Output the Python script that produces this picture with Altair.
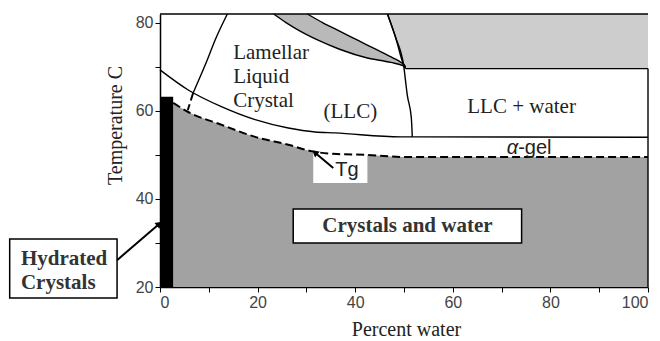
import altair as alt
import pandas as pd

# ---------------- data ----------------
# dashed Tg curve (top of "crystals and water" region)
tg_x = [2.7, 5.7, 12.7, 19.5, 26.3, 31.2, 36.3, 42.5, 50.7, 100]
tg_t = [61.8, 59.8, 56.8, 54.1, 52.3, 50.8, 50.2, 50.0, 49.5, 49.5]

# solid curve (bottom of LLC / top of alpha-gel)
llc_x = [0, 5.7, 12.7, 19.5, 26.3, 31.8, 35.9, 49.3, 51.7, 100]
llc_t = [69.3, 64.8, 60.9, 58.0, 56.1, 55.2, 55.0, 54.1, 54.1, 54.0]

# near-vertical left boundary (solid part, dashed part)
lv_x = [13.8, 11.3, 9.7, 6.8]
lv_t = [82.0, 76.1, 71.6, 64.1]
lvd_x = [6.8, 5.7]
lvd_t = [64.1, 60.2]

# right boundary of LLC
rb_x = [46.6, 48.3, 49.9, 50.7, 51.5, 51.7]
rb_t = [82.0, 76.6, 70.5, 63.4, 58.4, 54.1]

# crescent band (for each temperature: left and right edge)
cr_t = [82, 80, 78, 76, 74, 72, 71, 70.2, 69.8]
cr_left = [23.3, 25.9, 28.9, 32.5, 36.8, 42.5, 47.3, 49.9, 50.3]
cr_right = [30.2, 33.4, 37.0, 40.6, 44.2, 47.8, 49.4, 50.2, 50.3]

# upper-right shaded region (left edge), lower edge temperature
ur_t = [82.0, 76.6, 70.5, 69.6]
ur_x = [46.6, 48.3, 49.9, 50.3]
ur_bottom = 69.6

# hydrated crystals bar
bar_x = [0, 2.7]
bar_t = [20, 63.2]

# Tg label white patch
tgbox_x = [31.4, 42.5]
tgbox_t = [43.6, 50.6]

# annotation boxes [x1, x2, t1, t2]
box_cw = [27.3, 74.1, 30.0, 37.7]
box_hc = [-30.8, -8.8, 17.5, 30.9]

# arrows [x_from, t_from, x_to, t_to]
arrow_hc = [-8.8, 26.1, -0.3, 34.2]
arrow_tg = [35.5, 47.0, 31.9, 50.4]

# texts
serif_labels = ["Lamellar", "Liquid", "Crystal"]
serif_x = [15.0, 15.0, 15.0]
serif_t = [71.8, 66.4, 60.9]

x_ticks = list(range(0, 101, 10))
t_ticks = list(range(20, 81, 10))

XDOM = [0, 100]
TDOM = [20, 82]
SERIF = "Liberation Serif"
SANS = "Liberation Sans"
TXT = "#222222"

X_AXIS = alt.Axis(values=x_ticks,
                  labelExpr="datum.value % 20 == 0 ? datum.label : ''",
                  tickSize=5, tickColor="black", domainColor="black", domainWidth=1.5,
                  labelFont=SANS, labelFontSize=16, labelColor="#444444", labelPadding=2,
                  grid=False, title="Percent water", titleFont=SERIF, titleFontSize=20,
                  titleFontWeight="normal", titleColor=TXT, titleX=246, titleY=48,
                  titleBaseline="alphabetic", titleAlign="center")
Y_AXIS = alt.Axis(values=t_ticks,
                  labelExpr="datum.value % 20 == 0 ? datum.label : ''",
                  tickSize=5, tickColor="black", domainColor="black", domainWidth=1.5,
                  labelFont=SANS, labelFontSize=16, labelColor="#444444", labelPadding=2,
                  grid=False, title="Temperature C", titleFont=SERIF, titleFontSize=20,
                  titleFontWeight="normal", titleColor=TXT, titleX=-39, titleY=111,
                  titleAngle=270, titleBaseline="alphabetic", titleAlign="center")


def X(field="x"):
    return alt.X(f"{field}:Q", scale=alt.Scale(domain=XDOM, nice=False, zero=False), axis=X_AXIS)


def Y(field="t"):
    return alt.Y(f"{field}:Q", scale=alt.Scale(domain=TDOM, nice=False, zero=False), axis=Y_AXIS)


# ---------------- layers ----------------
df_tg = pd.DataFrame({"x": tg_x, "t": tg_t})
stipple = alt.Chart(df_tg).mark_area(color="#a2a2a2", interpolate="monotone").encode(
    x=X(), y=Y(), y2=alt.datum(TDOM[0]))

df_ur = pd.DataFrame({"t": ur_t, "x": ur_x, "x2": [100] * len(ur_t)})
upper_right = alt.Chart(df_ur).mark_area(color="#cdcdcd", orient="horizontal", interpolate="monotone").encode(
    y=Y(), x=X(), x2="x2:Q")

df_cr = pd.DataFrame({"t": cr_t, "x": cr_left, "x2": cr_right})
crescent = alt.Chart(df_cr).mark_area(color="#b9b9b9", orient="horizontal", interpolate="monotone").encode(
    y=Y(), x=X(), x2="x2:Q")

df_bar = pd.DataFrame({"x": [bar_x[0]], "x2": [bar_x[1]], "t": [bar_t[0]], "t2": [bar_t[1]]})
bar = alt.Chart(df_bar).mark_rect(color="black").encode(x=X(), x2="x2:Q", y=Y(), y2="t2:Q")

df_tgbox = pd.DataFrame({"x": [tgbox_x[0]], "x2": [tgbox_x[1]], "t": [tgbox_t[0]], "t2": [tgbox_t[1]]})
tgbox = alt.Chart(df_tgbox).mark_rect(color="white").encode(x=X(), x2="x2:Q", y=Y(), y2="t2:Q")

df_boxes = pd.DataFrame({"x": [box_cw[0], box_hc[0]], "x2": [box_cw[1], box_hc[1]],
                         "t": [box_cw[2], box_hc[2]], "t2": [box_cw[3], box_hc[3]]})
boxes = alt.Chart(df_boxes).mark_rect(fill="white", stroke="black", strokeWidth=1.5).encode(
    x=X(), x2="x2:Q", y=Y(), y2="t2:Q")


def line_df(name, xs, ts):
    return pd.DataFrame({"id": name, "i": range(len(xs)), "x": xs, "t": ts})


solid_df = pd.concat([
    line_df("llc", llc_x, llc_t),
    line_df("lv", lv_x, lv_t),
    line_df("rb", rb_x, rb_t),
    line_df("crl", cr_left, cr_t),
    line_df("crr", cr_right, cr_t),
    line_df("ur_edge", ur_x, ur_t),
    line_df("ur_bottom", [50.3, 100], [ur_bottom, ur_bottom]),
    line_df("right", [100, 100], [20, ur_bottom]),
    line_df("top", [0, 100], [82, 82]),
])
solid_lines = alt.Chart(solid_df).mark_line(color="black", strokeWidth=1.4, interpolate="monotone").encode(
    x=X(), y=Y(), detail="id:N", order="i:Q")

dash_df = pd.concat([line_df("tg", tg_x, tg_t), line_df("lvd", lvd_x, lvd_t)])
dash_lines = alt.Chart(dash_df).mark_line(color="black", strokeWidth=2, strokeDash=[8, 4],
                                          interpolate="monotone").encode(
    x=X(), y=Y(), detail="id:N", order="i:Q")

arrow_df = pd.concat([
    line_df("a1", [arrow_hc[0], arrow_hc[2]], [arrow_hc[1], arrow_hc[3]]),
    line_df("a2", [arrow_tg[0], arrow_tg[2]], [arrow_tg[1], arrow_tg[3]]),
])
arrow_lines = alt.Chart(arrow_df).mark_line(color="black", strokeWidth=2).encode(
    x=X(), y=Y(), detail="id:N", order="i:Q")
head_df = pd.DataFrame({"x": [arrow_hc[2], arrow_tg[2]], "t": [arrow_hc[3], arrow_tg[3]], "ang": [49, 308]})
heads = alt.Chart(head_df).mark_point(shape="triangle", filled=True, color="black", size=55, opacity=1).encode(
    x=X(), y=Y(), angle=alt.Angle("ang:Q", scale=None))

serif_df = pd.DataFrame({"x": serif_x, "t": serif_t, "label": serif_labels})
serif_txt = alt.Chart(serif_df).mark_text(font=SERIF, fontSize=21, color=TXT, align="left",
                                          baseline="alphabetic").encode(x=X(), y=Y(), text="label:N")

center_df = pd.DataFrame({"x": [39.0, 74.1], "t": [58.4, 59.5], "label": ["(LLC)", "LLC + water"]})
center_txt = alt.Chart(center_df).mark_text(font=SERIF, fontSize=21, color=TXT, align="center",
                                            baseline="alphabetic").encode(x=X(), y=Y(), text="label:N")

cw_df = pd.DataFrame({"x": [50.7], "t": [33.9], "label": ["Crystals and water"]})
cw_txt = alt.Chart(cw_df).mark_text(font=SERIF, fontSize=21, fontWeight="bold", color="#333333",
                                    align="center", baseline="middle").encode(x=X(), y=Y(), text="label:N")

hc_df = pd.DataFrame({"x": [-28.5, -28.5], "t": [25.0, 19.6], "label": ["Hydrated", "Crystals"]})
hc_txt = alt.Chart(hc_df).mark_text(font=SERIF, fontSize=21, fontWeight="bold", color="#333333",
                                    align="left", baseline="alphabetic").encode(x=X(), y=Y(), text="label:N")

alpha_df = pd.DataFrame({"x": [73.4], "t": [50.3], "label": ["α"]})
alpha_txt = alt.Chart(alpha_df).mark_text(font=SANS, fontSize=20, fontStyle="italic", color=TXT,
                                          align="right", baseline="alphabetic").encode(x=X(), y=Y(), text="label:N")
gel_df = pd.DataFrame({"x": [73.4, 35.9], "t": [50.3, 45.2], "label": ["-gel", "Tg"]})
gel_txt = alt.Chart(gel_df).mark_text(font=SANS, fontSize=20, color=TXT,
                                      align="left", baseline="alphabetic").encode(x=X(), y=Y(), text="label:N")

chart = alt.layer(
    stipple, upper_right, crescent, bar, tgbox, boxes,
    solid_lines, dash_lines, arrow_lines, heads,
    serif_txt, center_txt, cw_txt, hc_txt, alpha_txt, gel_txt,
).properties(
    width=488, height=273,
    padding={"left": 152, "top": 6, "right": 4, "bottom": 52},
    autosize=alt.AutoSizeParams(type="none"),
    background="white",
).configure_view(stroke=None)

chart.save("out.html", embed_options={"renderer": "svg", "actions": False})
